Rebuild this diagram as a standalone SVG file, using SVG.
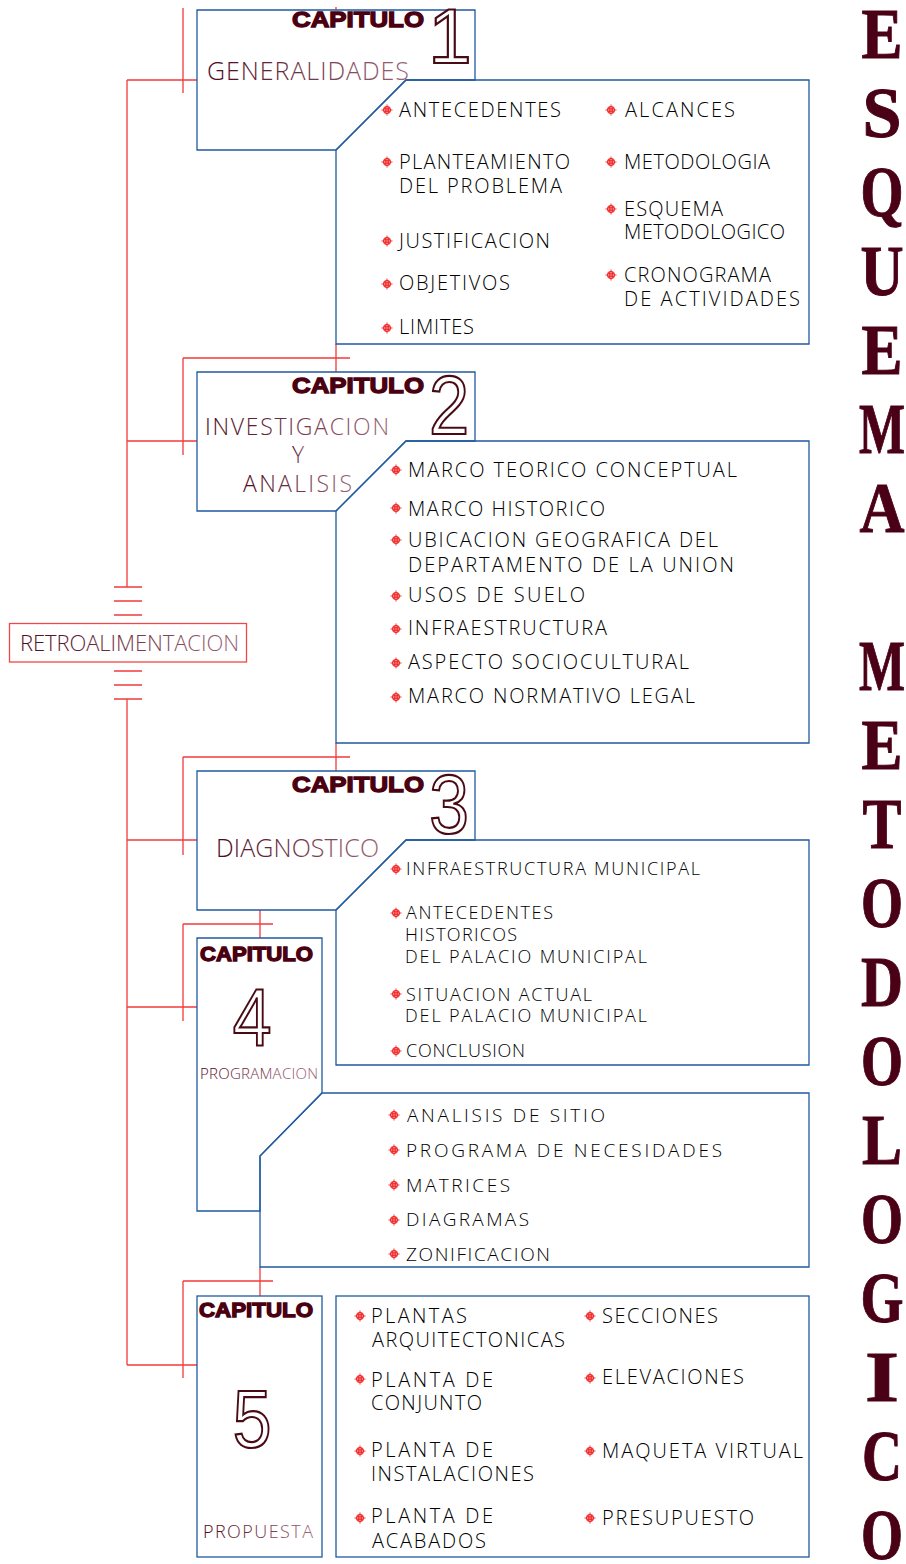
<svg xmlns="http://www.w3.org/2000/svg" xmlns:xlink="http://www.w3.org/1999/xlink" width="906" height="1564" viewBox="0 0 906 1564">
<defs>
<style>
.box{fill:none;stroke:#1f5aa0;stroke-width:1.3}
.con{fill:none;stroke:#f23a3a;stroke-width:1.3}
.cap{font-family:"Liberation Sans",Arial,sans-serif;font-weight:bold;fill:#4a0010;stroke:#4a0010;stroke-width:1.3}
.dig{font-family:"Liberation Sans",Arial,sans-serif;font-weight:normal;fill:#fff;stroke:#4a0a14;stroke-width:2.2;text-anchor:middle}
.sub{font-family:"Open Sans","Liberation Sans",sans-serif;font-weight:300;fill:url(#sg)}
.t{font-family:"Open Sans","Liberation Sans",sans-serif;font-weight:300;fill:#000}
.f20{font-size:20px}.f19{font-size:19px}.f18{font-size:18px}
.ttl{font-family:"Liberation Serif","Times New Roman",serif;font-weight:bold;font-size:72px;fill:#4a0016;text-anchor:middle;stroke:#4a0016;stroke-width:1}
</style>
<linearGradient id="sg" x1="0" y1="0" x2="1" y2="0">
<stop offset="0" stop-color="#4a0a1e"/>
<stop offset="1" stop-color="#9a6476"/>
</linearGradient>
<g id="b" fill="none" stroke="#f01818" stroke-width="0.9">
<circle r="3.6"/>
<path d="M-5.5,0H5.5M0,-5.5V5.5M-3.4,-1.7H3.4M-3.4,1.7H3.4M-1.7,-3.4V3.4M1.7,-3.4V3.4"/>
</g>
</defs>
<rect width="906" height="1564" fill="#fff"/>

<g id="connectors">
<path class="con" d="M183,8V93M127,80H197M336,7V10"/>
<path class="con" d="M127,80V587M114,587H142M114,601H142M114,615H142M114,671H142M114,685H142M114,699H142M127,699V1365"/>
<path class="con" d="M336,344V372M183,358H350M183,358V455M127,441H197"/>
<path class="con" d="M336,743V771M183,757H350M183,757V855M127,840H197"/>
<path class="con" d="M260,910V938M183,924H273M183,924V1021M127,1007H197"/>
<path class="con" d="M260,1267V1296M183,1281H273M183,1281V1378M127,1365H197"/>
</g>

<g id="retroalimentacion">
<rect x="9.5" y="623.5" width="237" height="38.5" fill="#fff" stroke="#f04848" stroke-width="1.3"/>
<text class="sub" x="20" y="651" font-size="22" textLength="219" lengthAdjust="spacing">RETROALIMENTACION</text>
</g>

<g id="capitulo1">
<polygon class="box" points="197,10 475,10 475,80 406,80 336,150 197,150"/>
<text class="cap" x="292" y="27" font-size="22" textLength="132" lengthAdjust="spacingAndGlyphs">CAPITULO</text>
<text class="dig" x="450" y="63" font-size="78">1</text>
<text class="sub" x="207" y="80" font-size="25" textLength="202" lengthAdjust="spacing">GENERALIDADES</text>
</g>
<g id="capitulo1-contenido">
<polygon class="box" points="406,80 809,80 809,344 336,344 336,150"/>
<g class="t f20">
<text x="399" y="117" textLength="162" lengthAdjust="spacing">ANTECEDENTES</text>
<text x="399" y="169" textLength="171" lengthAdjust="spacing">PLANTEAMIENTO</text>
<text x="399" y="193" textLength="163" lengthAdjust="spacing">DEL  PROBLEMA</text>
<text x="399" y="248" textLength="151" lengthAdjust="spacing">JUSTIFICACION</text>
<text x="399" y="290" textLength="111" lengthAdjust="spacing">OBJETIVOS</text>
<text x="399" y="334" textLength="75" lengthAdjust="spacing">LIMITES</text>
<text x="625" y="117" textLength="110" lengthAdjust="spacing">ALCANCES</text>
<text x="624" y="169" textLength="146" lengthAdjust="spacing">METODOLOGIA</text>
<text x="624" y="216" textLength="99" lengthAdjust="spacing">ESQUEMA</text>
<text x="624" y="239" textLength="161" lengthAdjust="spacing">METODOLOGICO</text>
<text x="624" y="282" textLength="147" lengthAdjust="spacing">CRONOGRAMA</text>
<text x="624" y="306" textLength="176" lengthAdjust="spacing">DE  ACTIVIDADES</text>
</g>
<use href="#b" x="387" y="110"/><use href="#b" x="387" y="162"/><use href="#b" x="387" y="241"/>
<use href="#b" x="387" y="284"/><use href="#b" x="387" y="328"/>
<use href="#b" x="611" y="110"/><use href="#b" x="611" y="162"/><use href="#b" x="611" y="209"/><use href="#b" x="611" y="275"/>
</g>

<g id="capitulo2">
<polygon class="box" points="197,372 475,372 475,441 406,441 336,511 197,511"/>
<text class="cap" x="292" y="393" font-size="22" textLength="132" lengthAdjust="spacingAndGlyphs">CAPITULO</text>
<text class="dig" transform="translate(449,434) scale(0.86,1)" x="0" y="0" font-size="84">2</text>
<text class="sub" x="205" y="435" font-size="23" textLength="184" lengthAdjust="spacing">INVESTIGACION</text>
<text class="sub" x="298" y="463" font-size="23" text-anchor="middle">Y</text>
<text class="sub" x="243" y="492" font-size="23" textLength="109" lengthAdjust="spacing">ANALISIS</text>
</g>
<g id="capitulo2-contenido">
<polygon class="box" points="406,441 809,441 809,743 336,743 336,511"/>
<g class="t f20">
<text x="408" y="477" textLength="329" lengthAdjust="spacing">MARCO  TEORICO  CONCEPTUAL</text>
<text x="408" y="516" textLength="197" lengthAdjust="spacing">MARCO  HISTORICO</text>
<text x="408" y="547" textLength="310" lengthAdjust="spacing">UBICACION  GEOGRAFICA  DEL</text>
<text x="408" y="572" textLength="326" lengthAdjust="spacing">DEPARTAMENTO  DE  LA  UNION</text>
<text x="408" y="602" textLength="177" lengthAdjust="spacing">USOS  DE  SUELO</text>
<text x="408" y="635" textLength="199" lengthAdjust="spacing">INFRAESTRUCTURA</text>
<text x="408" y="669" textLength="281" lengthAdjust="spacing">ASPECTO  SOCIOCULTURAL</text>
<text x="408" y="703" textLength="287" lengthAdjust="spacing">MARCO  NORMATIVO  LEGAL</text>
</g>
<use href="#b" x="396" y="470"/><use href="#b" x="396" y="508"/><use href="#b" x="396" y="540"/><use href="#b" x="396" y="596"/>
<use href="#b" x="396" y="629"/><use href="#b" x="396" y="663"/><use href="#b" x="396" y="697"/>
</g>

<g id="capitulo3">
<polygon class="box" points="197,771 475,771 475,840 406,840 336,910 197,910"/>
<text class="cap" x="292" y="792" font-size="22" textLength="132" lengthAdjust="spacingAndGlyphs">CAPITULO</text>
<text class="dig" transform="translate(449,833) scale(0.86,1)" x="0" y="0" font-size="83">3</text>
<text class="sub" x="216" y="857" font-size="25" textLength="163" lengthAdjust="spacing">DIAGNOSTICO</text>
</g>
<g id="capitulo3-contenido">
<polygon class="box" points="406,840 809,840 809,1065 336,1065 336,910"/>
<g class="t f18">
<text x="406" y="875" textLength="294" lengthAdjust="spacing">INFRAESTRUCTURA  MUNICIPAL</text>
<text x="406" y="919" textLength="147" lengthAdjust="spacing">ANTECEDENTES</text>
<text x="405" y="941" textLength="112" lengthAdjust="spacing">HISTORICOS</text>
<text x="405" y="963" textLength="242" lengthAdjust="spacing">DEL  PALACIO  MUNICIPAL</text>
<text x="406" y="1001" textLength="186" lengthAdjust="spacing">SITUACION  ACTUAL</text>
<text x="405" y="1022" textLength="242" lengthAdjust="spacing">DEL  PALACIO  MUNICIPAL</text>
<text x="406" y="1057" textLength="119" lengthAdjust="spacing">CONCLUSION</text>
</g>
<use href="#b" x="396" y="869"/><use href="#b" x="396" y="913"/><use href="#b" x="396" y="994"/><use href="#b" x="396" y="1051"/>
</g>

<g id="capitulo4">
<polygon class="box" points="197,938 322,938 322,1093 260,1156 260,1211 197,1211"/>
<text class="cap" x="200" y="961" font-size="20" textLength="113" lengthAdjust="spacingAndGlyphs">CAPITULO</text>
<text class="dig" transform="translate(252,1046) scale(0.86,1)" x="0" y="0" font-size="81">4</text>
<text class="sub" x="200" y="1079" font-size="15" textLength="118" lengthAdjust="spacing">PROGRAMACION</text>
</g>
<g id="capitulo4-contenido">
<polygon class="box" points="322,1093 809,1093 809,1267 260,1267 260,1156"/>
<g class="t f19">
<text x="407" y="1122" textLength="198" lengthAdjust="spacing">ANALISIS  DE  SITIO</text>
<text x="406" y="1157" textLength="316" lengthAdjust="spacing">PROGRAMA  DE  NECESIDADES</text>
<text x="406" y="1192" textLength="104" lengthAdjust="spacing">MATRICES</text>
<text x="406" y="1226" textLength="123" lengthAdjust="spacing">DIAGRAMAS</text>
<text x="406" y="1261" textLength="144" lengthAdjust="spacing">ZONIFICACION</text>
</g>
<use href="#b" x="394" y="1115"/><use href="#b" x="394" y="1150"/><use href="#b" x="394" y="1185"/><use href="#b" x="394" y="1220"/><use href="#b" x="394" y="1254"/>
</g>

<g id="capitulo5">
<rect class="box" x="197" y="1296" width="125" height="261"/>
<text class="cap" x="199" y="1317" font-size="20" textLength="114" lengthAdjust="spacingAndGlyphs">CAPITULO</text>
<text class="dig" transform="translate(252,1447) scale(0.86,1)" x="0" y="0" font-size="81">5</text>
<text class="sub" x="203" y="1538" font-size="18" textLength="110" lengthAdjust="spacing">PROPUESTA</text>
</g>
<g id="capitulo5-contenido">
<rect class="box" x="336" y="1296" width="473" height="261"/>
<g class="t f20">
<text x="371" y="1323" textLength="96" lengthAdjust="spacing">PLANTAS</text>
<text x="372" y="1347" textLength="193" lengthAdjust="spacing">ARQUITECTONICAS</text>
<text x="371" y="1387" textLength="122" lengthAdjust="spacing">PLANTA  DE</text>
<text x="371" y="1410" textLength="111" lengthAdjust="spacing">CONJUNTO</text>
<text x="371" y="1457" textLength="122" lengthAdjust="spacing">PLANTA  DE</text>
<text x="371" y="1481" textLength="163" lengthAdjust="spacing">INSTALACIONES</text>
<text x="371" y="1523" textLength="122" lengthAdjust="spacing">PLANTA  DE</text>
<text x="372" y="1548" textLength="114" lengthAdjust="spacing">ACABADOS</text>
<text x="602" y="1323" textLength="116" lengthAdjust="spacing">SECCIONES</text>
<text x="602" y="1384" textLength="142" lengthAdjust="spacing">ELEVACIONES</text>
<text x="602" y="1458" textLength="201" lengthAdjust="spacing">MAQUETA  VIRTUAL</text>
<text x="602" y="1525" textLength="152" lengthAdjust="spacing">PRESUPUESTO</text>
</g>
<use href="#b" x="360" y="1316"/><use href="#b" x="360" y="1379"/><use href="#b" x="360" y="1451"/><use href="#b" x="360" y="1518"/>
<use href="#b" x="590" y="1316"/><use href="#b" x="590" y="1378"/><use href="#b" x="590" y="1451"/><use href="#b" x="590" y="1518"/>
</g>

<g id="titulo" class="ttl">
<text x="882" y="58" textLength="41" lengthAdjust="spacingAndGlyphs">E</text>
<text x="882" y="137" textLength="39" lengthAdjust="spacingAndGlyphs">S</text>
<text x="882" y="216" textLength="43" lengthAdjust="spacingAndGlyphs">Q</text>
<text x="882" y="295" textLength="43" lengthAdjust="spacingAndGlyphs">U</text>
<text x="882" y="374" textLength="41" lengthAdjust="spacingAndGlyphs">E</text>
<text x="882" y="453" textLength="46" lengthAdjust="spacingAndGlyphs">M</text>
<text x="882" y="532" textLength="45" lengthAdjust="spacingAndGlyphs">A</text>
<text x="882" y="690" textLength="46" lengthAdjust="spacingAndGlyphs">M</text>
<text x="882" y="769" textLength="41" lengthAdjust="spacingAndGlyphs">E</text>
<text x="882" y="848" textLength="39" lengthAdjust="spacingAndGlyphs">T</text>
<text x="882" y="927" textLength="42" lengthAdjust="spacingAndGlyphs">O</text>
<text x="882" y="1006" textLength="42" lengthAdjust="spacingAndGlyphs">D</text>
<text x="882" y="1085" textLength="42" lengthAdjust="spacingAndGlyphs">O</text>
<text x="882" y="1164" textLength="40" lengthAdjust="spacingAndGlyphs">L</text>
<text x="882" y="1243" textLength="42" lengthAdjust="spacingAndGlyphs">O</text>
<text x="882" y="1322" textLength="43" lengthAdjust="spacingAndGlyphs">G</text>
<text x="882" y="1401" textLength="34" lengthAdjust="spacingAndGlyphs">I</text>
<text x="882" y="1480" textLength="40" lengthAdjust="spacingAndGlyphs">C</text>
<text x="882" y="1559" textLength="42" lengthAdjust="spacingAndGlyphs">O</text>
</g>
</svg>
